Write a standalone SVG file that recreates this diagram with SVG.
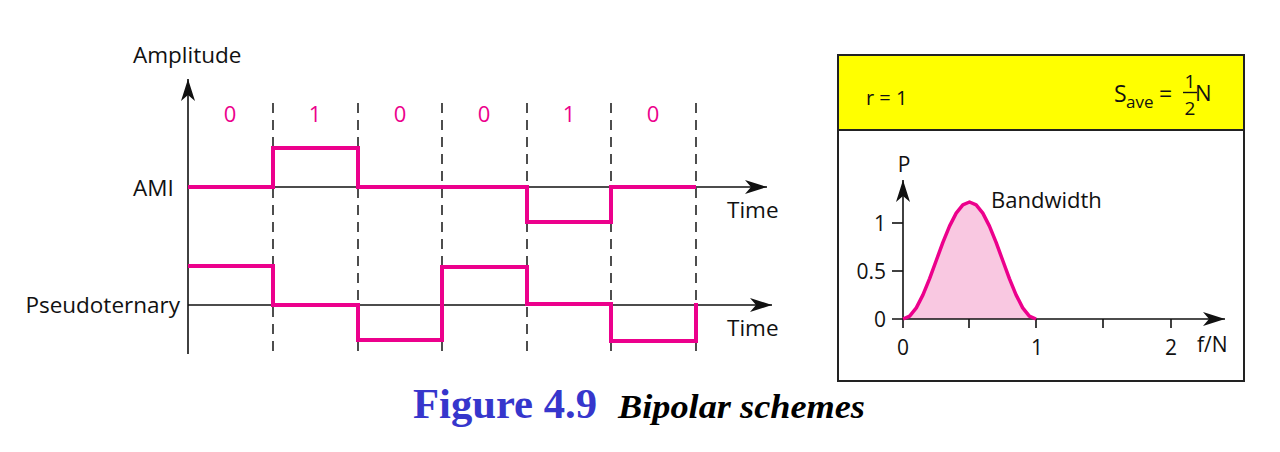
<svg xmlns="http://www.w3.org/2000/svg" width="1280" height="452" viewBox="0 0 1280 452">
<style>
.t{font-family:"Open Sans","Liberation Sans",sans-serif;fill:#111;}
.bit{font-family:"Open Sans","Liberation Sans",sans-serif;fill:#ec008c;font-size:22px;text-anchor:middle;}
.axis{stroke:#111;stroke-width:1.6;fill:none;}
.dash{stroke:#222;stroke-width:1.6;stroke-dasharray:10 7;fill:none;}
.sig{stroke:#ec008c;stroke-width:4;fill:none;stroke-linejoin:miter;stroke-linecap:square;}
.tick{stroke:#111;stroke-width:1.6;}
</style>
<defs>
<marker id="arr" viewBox="0 0 22 14" refX="22" refY="7" markerWidth="22" markerHeight="14" markerUnits="userSpaceOnUse" orient="auto">
<path d="M0,0 L22,7 L0,14 L6,7 z" fill="#111"/>
</marker>
</defs>
<rect width="1280" height="452" fill="#fff"/>

<g id="left-axes">
<line class="axis" x1="188" y1="354" x2="188" y2="79" marker-end="url(#arr)"/>
<line class="axis" x1="188" y1="187" x2="767" y2="187" marker-end="url(#arr)"/>
<line class="axis" x1="188" y1="305" x2="772" y2="305" marker-end="url(#arr)"/>
<text class="t" x="133" y="63" font-size="22.5">Amplitude</text>
<text class="t" x="133" y="196" font-size="22.5">AMI</text>
<text class="t" x="180" y="313" font-size="22.5" text-anchor="end">Pseudoternary</text>
<text class="t" x="727" y="218" font-size="22.5">Time</text>
<text class="t" x="727" y="336" font-size="22.5">Time</text>
</g>

<g id="bit-boundaries">
<line class="dash" x1="273" y1="103" x2="273" y2="354"/>
<line class="dash" x1="358" y1="103" x2="358" y2="354"/>
<line class="dash" x1="442" y1="103" x2="442" y2="354"/>
<line class="dash" x1="527" y1="103" x2="527" y2="354"/>
<line class="dash" x1="611" y1="103" x2="611" y2="354"/>
<line class="dash" x1="696" y1="103" x2="696" y2="354"/>
</g>

<g id="bits">
<text class="bit" x="230" y="122">0</text>
<text class="bit" x="315" y="122">1</text>
<text class="bit" x="400" y="122">0</text>
<text class="bit" x="484" y="122">0</text>
<text class="bit" x="569" y="122">1</text>
<text class="bit" x="653" y="122">0</text>
</g>

<g id="ami-signal">
<path class="sig" d="M190,187 H273 V148 H358 V187 H527 V222 H611 V187 H694"/>
</g>

<g id="pseudoternary-signal">
<path class="sig" d="M190,266 H273 V305 H358 V340 H442 V267 H527 V304 H611 V341 H696 V305"/>
</g>

<g id="spectrum-box">
<rect x="838" y="55" width="406" height="326" fill="#fff" stroke="#222" stroke-width="2"/>
<rect x="838" y="55" width="406" height="75" fill="#ffff00" stroke="#222" stroke-width="2"/>
<text class="t" x="866" y="105" font-size="20">r = 1</text>
<text class="t" x="1114" y="102" font-size="23">S</text>
<text class="t" x="1126" y="108" font-size="17">ave</text>
<text class="t" x="1159" y="102" font-size="23">=</text>
<text class="t" x="1190" y="88" font-size="19" text-anchor="middle">1</text>
<line x1="1183" y1="92.5" x2="1197" y2="92.5" stroke="#111" stroke-width="1.4"/>
<text class="t" x="1190" y="115" font-size="19" text-anchor="middle">2</text>
<text class="t" x="1195" y="101" font-size="22">N</text>
</g>

<g id="spectrum-graph">
<path d="M903,319 L909.65,316.14 L916.3,307.83 L922.95,294.88 L929.6,278.58 L936.25,260.5 L942.9,242.42 L949.55,226.11 L956.2,213.17 L962.85,204.86 L969.5,202 L976.15,204.86 L982.8,213.17 L989.45,226.11 L996.1,242.42 L1002.75,260.5 L1009.4,278.58 L1016.05,294.88 L1022.7,307.83 L1029.35,316.14 L1036,319 Z" fill="#f9c8e1" stroke="none"/>
<line class="axis" x1="892" y1="319" x2="1225" y2="319" marker-end="url(#arr)"/>
<line class="axis" x1="903" y1="328" x2="903" y2="180" marker-end="url(#arr)"/>
<line class="tick" x1="892" y1="223" x2="903" y2="223"/>
<line class="tick" x1="892" y1="271" x2="903" y2="271"/>
<line class="tick" x1="969" y1="319" x2="969" y2="328"/>
<line class="tick" x1="1036" y1="319" x2="1036" y2="328"/>
<line class="tick" x1="1103" y1="319" x2="1103" y2="328"/>
<line class="tick" x1="1171" y1="319" x2="1171" y2="328"/>
<path d="M903,319 L909.65,316.14 L916.3,307.83 L922.95,294.88 L929.6,278.58 L936.25,260.5 L942.9,242.42 L949.55,226.11 L956.2,213.17 L962.85,204.86 L969.5,202 L976.15,204.86 L982.8,213.17 L989.45,226.11 L996.1,242.42 L1002.75,260.5 L1009.4,278.58 L1016.05,294.88 L1022.7,307.83 L1029.35,316.14 L1036,319" fill="none" stroke="#ec008c" stroke-width="3.5" stroke-linejoin="round"/>
<text class="t" x="904" y="172" font-size="21" text-anchor="middle">P</text>
<text class="t" x="886" y="231" font-size="21" text-anchor="end">1</text>
<text class="t" x="886" y="279" font-size="21" text-anchor="end">0.5</text>
<text class="t" x="886" y="327" font-size="21" text-anchor="end">0</text>
<text class="t" x="903" y="355" font-size="21" text-anchor="middle">0</text>
<text class="t" x="1037" y="355" font-size="21" text-anchor="middle">1</text>
<text class="t" x="1171" y="355" font-size="21" text-anchor="middle">2</text>
<text class="t" x="1197" y="352" font-size="21">f/N</text>
<text class="t" x="991" y="208" font-size="22">Bandwidth</text>
</g>

<g id="caption">
<text x="413" y="418" font-family="'Liberation Serif',serif" font-weight="bold" font-size="42" textLength="184" lengthAdjust="spacingAndGlyphs" fill="#3636cc">Figure 4.9</text>
<text x="618" y="418" font-family="'Liberation Serif',serif" font-weight="bold" font-style="italic" font-size="34" textLength="247" lengthAdjust="spacingAndGlyphs" fill="#000">Bipolar schemes</text>
</g>
</svg>
